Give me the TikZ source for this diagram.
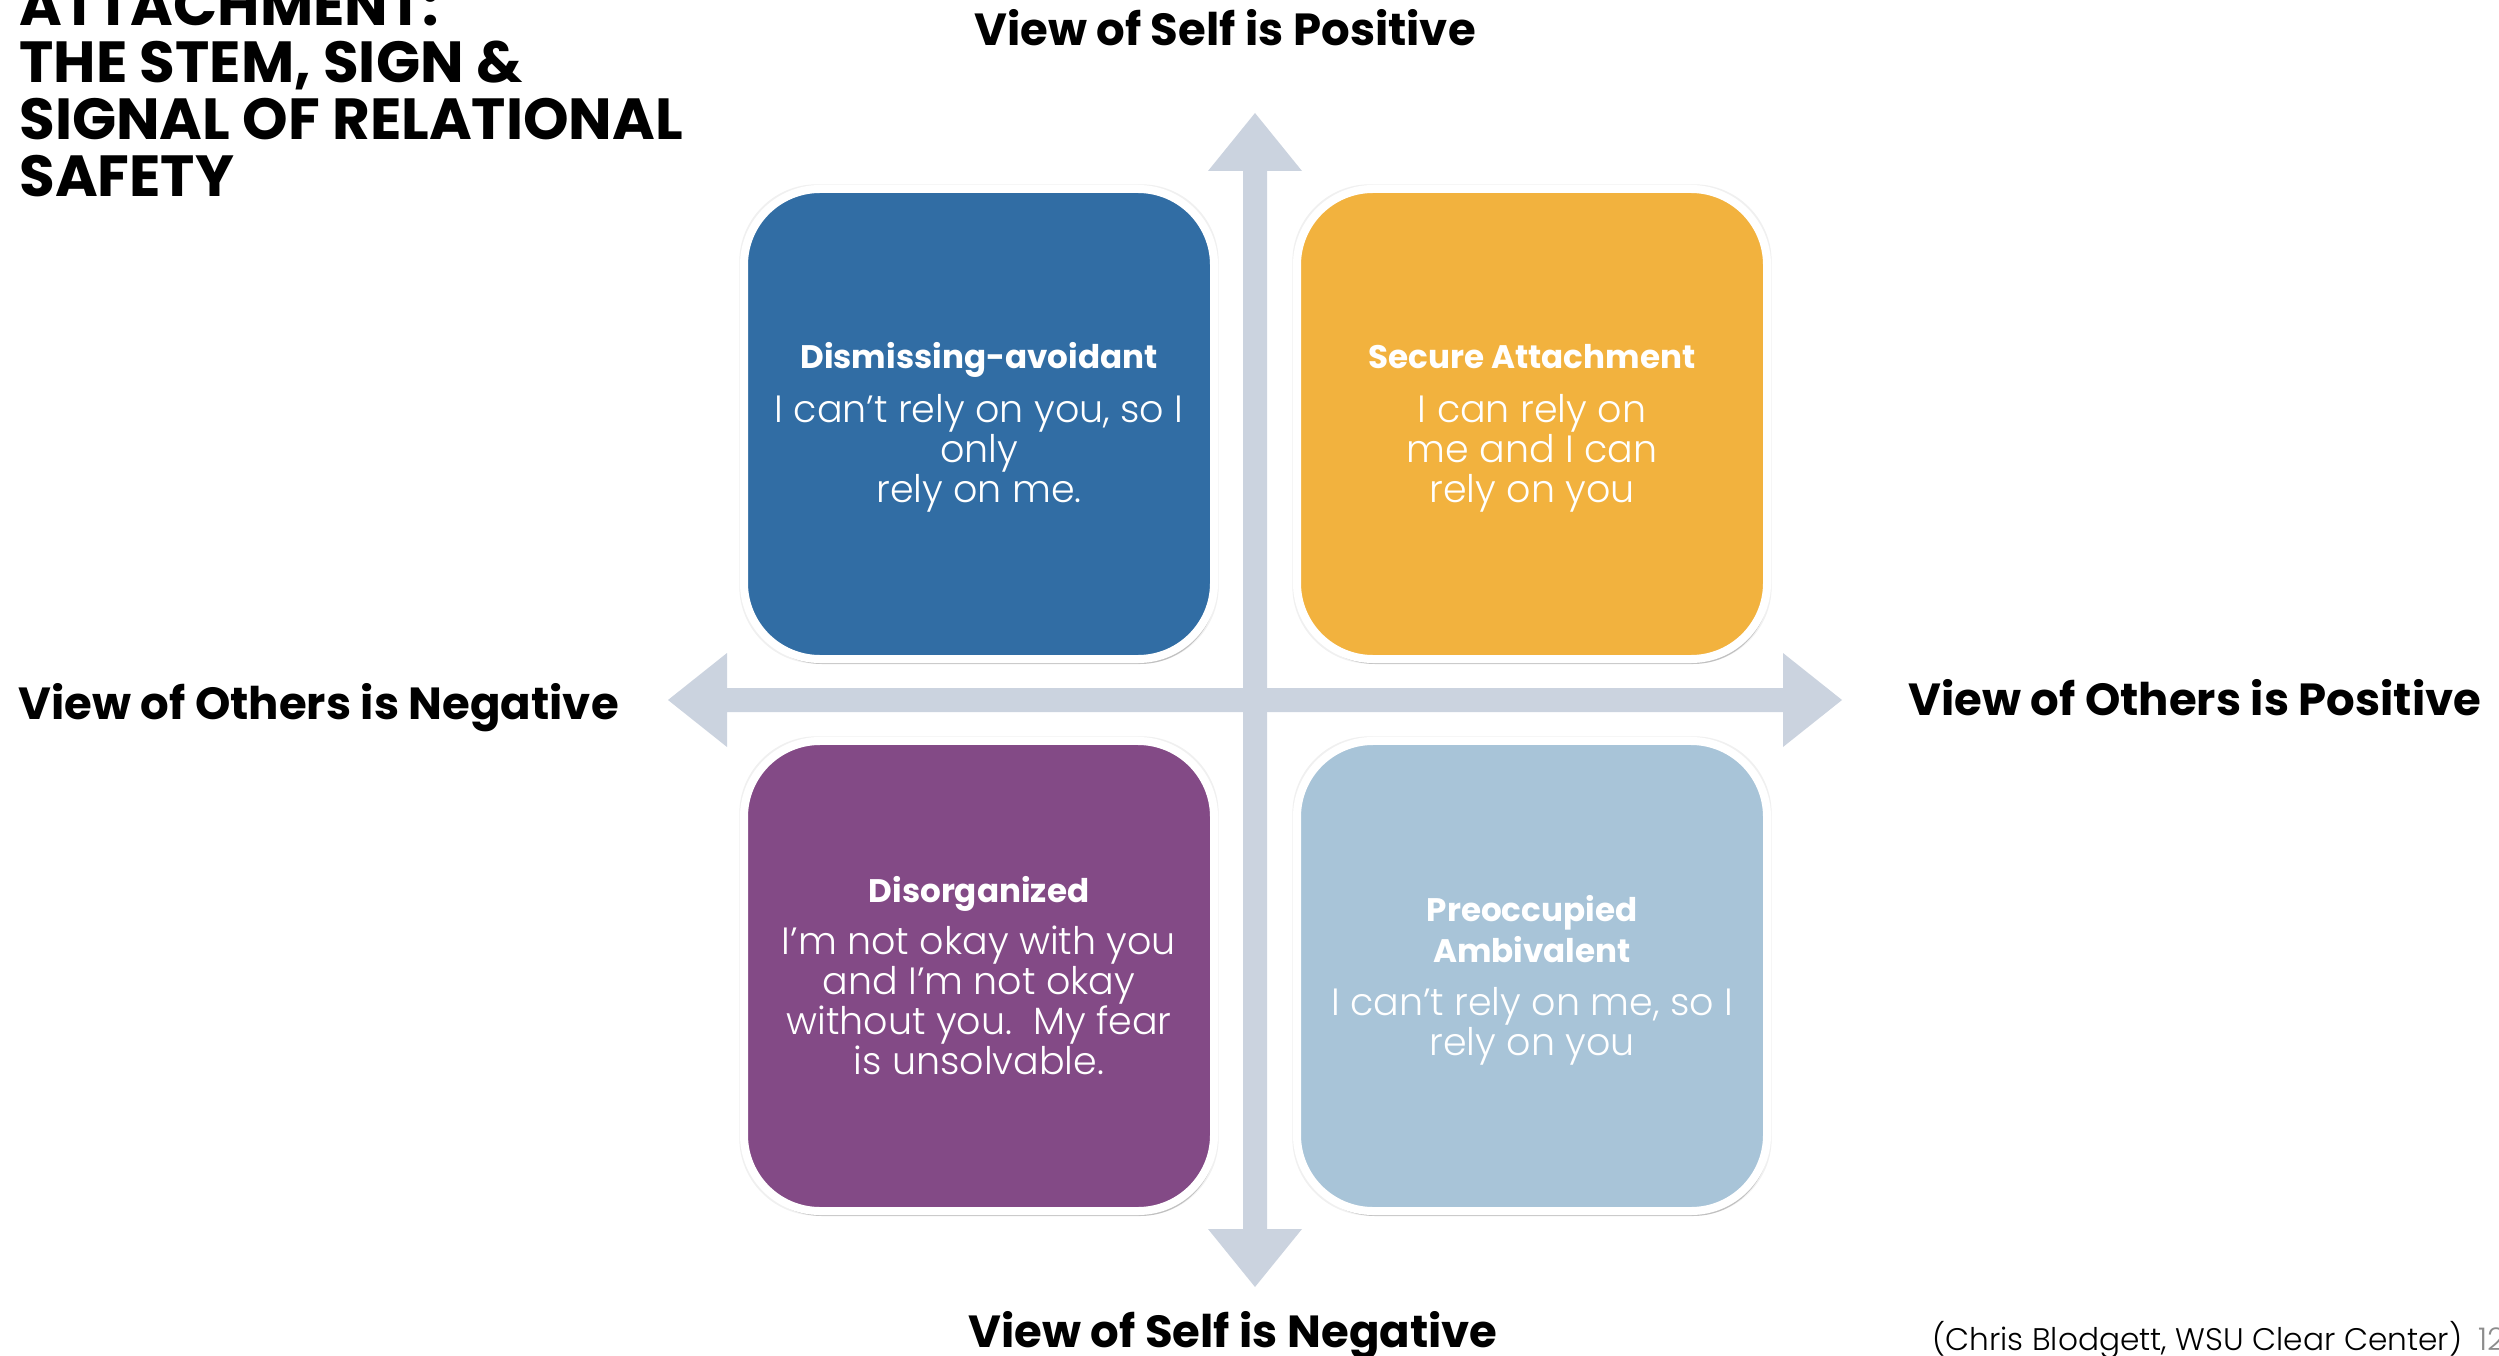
\documentclass[tikz,border=0pt]{standalone}
\usepackage{fontspec}
\setmainfont{Poppins}
\IfFontExistsTF{Poppins Light}{\newfontfamily\lightfont{Poppins Light}}{\newfontfamily\lightfont{Poppins}}
\usetikzlibrary{shadows}

\definecolor{axisgrey}{HTML}{CBD3DF}
\definecolor{qblue}{HTML}{316DA4}
\definecolor{qorange}{HTML}{F2B23E}
\definecolor{qpurple}{HTML}{834A86}
\definecolor{qsky}{HTML}{A8C4D8}

\newcommand\titlefont{\bfseries\fontsize{29bp}{28.5bp}\selectfont}
\newcommand\axisfont{\bfseries\fontsize{22.5bp}{27bp}\selectfont}
\newcommand\boxhead{\bfseries\fontsize{16.3bp}{20bp}\selectfont}
\newcommand\boxbody{\lightfont\fontsize{19bp}{20bp}\selectfont}

\tikzset{
  quad/.style={rounded corners=38bp, minimum width=235bp, minimum height=235bp,
    inner sep=0pt, draw=white, line width=4bp,
    general shadow={fill=black, opacity=0.06, shadow scale=1.02},
    general shadow={fill=black, opacity=0.2, shadow xshift=1bp, shadow yshift=-2.5bp}},
  headline/.style={inner sep=0pt, anchor=base, text=white, font=\boxhead},
  bodyline/.style={inner sep=0pt, anchor=base, text=white, font=\boxbody},
  heading/.style={inner sep=0pt, anchor=base west, font=\titlefont},
  axislabel/.style={inner sep=0pt, anchor=base, font=\axisfont},
}

\begin{document}
\begin{tikzpicture}[x=0.5bp, y=-0.5bp]
\useasboundingbox (0,0) rectangle (2499,1356);

% axes: vertical and horizontal double-headed block arrows
\fill[axisgrey] (1243,171) -- (1208,171) -- (1255,113) -- (1302,171) -- (1267,171)
  -- (1267,1229) -- (1302,1229) -- (1255,1287) -- (1208,1229) -- (1243,1229) -- cycle;
\fill[axisgrey] (727,688) -- (727,653) -- (668,700) -- (727,747) -- (727,712)
  -- (1783,712) -- (1783,747) -- (1842,700) -- (1783,653) -- (1783,688) -- cycle;

% quadrant boxes
\node[quad, fill=qblue] (dismissing) at (979,424) {};
\node[quad, fill=qorange] (secure) at (1532,424) {};
\node[quad, fill=qpurple] (disorganized) at (979,976) {};
\node[quad, fill=qsky] (preoccupied) at (1532,976) {};

% quadrant texts, one node per line
\node[headline] (dismissing-head) at (979,369) {Dismissing-avoidant};
\foreach \line [count=\i] in {{I can’t rely on you, so I}, only, rely on me.}
  \node[bodyline] (dismissing-\i) at (979,{422+40*(\i-1)}) {\line};

\node[headline] (secure-head) at (1532,369) {Secure Attachment};
\foreach \line [count=\i] in {I can rely on, me and I can, rely on you}
  \node[bodyline] (secure-\i) at (1532,{422+40*(\i-1)}) {\line};

\node[headline] (disorganized-head) at (979,902) {Disorganized};
\foreach \line [count=\i] in {I’m not okay with you, and I’m not okay, without you.\ \ My fear, is unsolvable.}
  \node[bodyline] (disorganized-\i) at (979,{954+40*(\i-1)}) {\line};

\node[headline] (preoccupied-head1) at (1532,921) {Preoccupied};
\node[headline] (preoccupied-head2) at (1532,962) {Ambivalent};
\foreach \line [count=\i] in {{I can’t rely on me, so I}, rely on you}
  \node[bodyline] (preoccupied-\i) at (1532,{1015+40*(\i-1)}) {\line};

% axis labels
\node[axislabel] (selfpos) at (1225,46) {View of Self is Positive};
\node[axislabel] (selfneg) at (1233,1347) {View of Self is Negative};
\node[axislabel, anchor=base west] (othersneg) at (18,719) {View of Others is Negative};
\node[axislabel, anchor=base west] (otherspos) at (1908,715) {View of Others is Positive};

% title
\node[heading] (t1) at (19,26) {ATTACHMENT:};
\node[heading] (t2) at (19,83) {THE STEM, SIGN \&};
\node[heading] (t3) at (19,140) {SIGNAL OF RELATIONAL};
\node[heading] (t4) at (19,197) {SAFETY};

% source and page number
\node[inner sep=0pt, anchor=base west, font=\lightfont\fontsize{15.6bp}{18bp}\selectfont]
  (source) at (1932,1350) {(Chris Blodgett, WSU Clear Center)};
\node[inner sep=0pt, anchor=base west, text=black!45, font=\lightfont\fontsize{15.6bp}{18bp}\selectfont]
  (page) at (2478,1350) {12};
\end{tikzpicture}
\end{document}
